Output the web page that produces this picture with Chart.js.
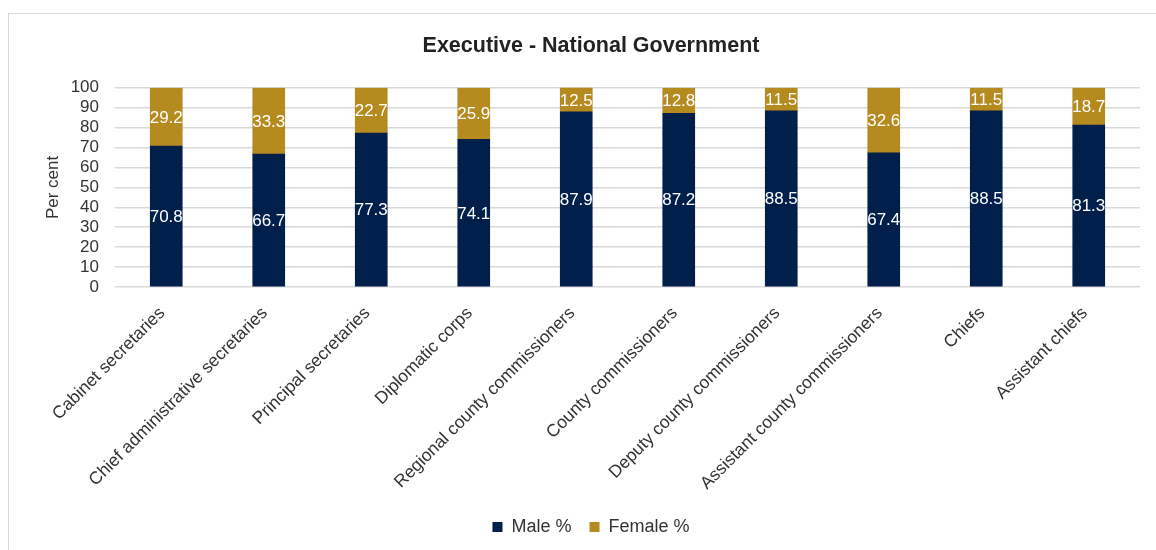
<!DOCTYPE html>
<html>
<head>
<meta charset="utf-8">
<script src="https://cdn.jsdelivr.net/npm/chart.js@4.4.1/dist/chart.umd.min.js"></script>
<style>
  html, body { margin: 0; padding: 0; background: #ffffff; overflow: hidden; width: 1156px; height: 550px; }
  #frame { position: absolute; left: 8px; top: 13px; width: 1300px; height: 700px; border: 1px solid #d9d9d9; box-sizing: border-box; }
  #wrap { position: absolute; left: 0; top: 0; width: 1182px; height: 546px; }
</style>
</head>
<body>
<div id="frame"></div>
<div id="wrap"><canvas id="c" width="1182" height="546"></canvas></div>
<script>
const categories = [
  "Cabinet secretaries",
  "Chief administrative secretaries",
  "Principal secretaries",
  "Diplomatic corps",
  "Regional county commissioners",
  "County commissioners",
  "Deputy county commissioners",
  "Assistant county commissioners",
  "Chiefs",
  "Assistant chiefs"
];
const maleValues   = [70.8, 66.7, 77.3, 74.1, 87.9, 87.2, 88.5, 67.4, 88.5, 81.3];
const femaleValues = [29.2, 33.3, 22.7, 25.9, 12.5, 12.8, 11.5, 32.6, 11.5, 18.7];
const seriesNames  = ["Male %", "Female %"];
const yTickMin = 0, yTickMax = 100, yTickStep = 10;
const chartTitle = "Executive - National Government";
const yAxisTitle = "Per cent";

const FONT = "'Liberation Sans', Arial, Helvetica, sans-serif";
const NAVY = "#011f4b";
const GOLD = "#b58a1f";

const segmentLabels = {
  id: 'segmentLabels',
  afterDatasetsDraw(chart) {
    const ctx = chart.ctx;
    ctx.save();
    ctx.font = "17px " + FONT;
    ctx.fillStyle = "#ffffff";
    ctx.textAlign = "center";
    ctx.textBaseline = "middle";
    chart.data.datasets.forEach((ds, di) => {
      const meta = chart.getDatasetMeta(di);
      meta.data.forEach((el, i) => {
        const p = el.getProps(['x', 'y', 'base'], true);
        const top = Math.max(p.y, chart.chartArea.top);
        ctx.fillText(ds.data[i].toFixed(1), p.x, (top + p.base) / 2 + 1);
      });
    });
    ctx.restore();
  }
};

new Chart(document.getElementById('c'), {
  type: 'bar',
  data: {
    labels: categories,
    datasets: [
      { label: seriesNames[0], data: maleValues, backgroundColor: NAVY, barThickness: 32 },
      { label: seriesNames[1], data: femaleValues, backgroundColor: GOLD, barThickness: 32 }
    ]
  },
  options: {
    responsive: false,
    animation: false,
    devicePixelRatio: 1,
    layout: { padding: { left: 42, right: 42, top: 0, bottom: 0 } },
    plugins: {
      title: {
        display: true,
        text: chartTitle,
        color: "#222222",
        font: { family: FONT, size: 21.5, weight: 'bold' },
        padding: { top: 33, bottom: 29 }
      },
      legend: {
        position: 'bottom',
        labels: {
          color: "#333333",
          font: { family: FONT, size: 18 },
          boxWidth: 10,
          boxHeight: 10,
          padding: 18
        }
      },
      tooltip: { enabled: false }
    },
    scales: {
      x: {
        stacked: true,
        grid: { display: false },
        border: { display: false },
        ticks: {
          color: "#333333",
          font: { family: FONT, size: 17.5 },
          autoSkip: false,
          minRotation: 45,
          maxRotation: 45,
          padding: 8,
          labelOffset: -4
        },
        afterFit(scale) { scale.height = 213; }
      },
      y: {
        stacked: true,
        min: yTickMin,
        max: yTickMax,
        grid: { color: "#d9d9d9", lineWidth: 1.5, drawTicks: false },
        border: { display: false },
        ticks: {
          stepSize: yTickStep,
          autoSkip: false,
          color: "#333333",
          font: { family: FONT, size: 17 },
          padding: 16
        },
        title: {
          display: true,
          text: yAxisTitle,
          color: "#333333",
          font: { family: FONT, size: 17 },
          padding: { top: 1, bottom: 0 }
        },
        afterFit(scale) { scale.width = 73; }
      }
    }
  },
  plugins: [segmentLabels]
});
</script>
</body>
</html>
